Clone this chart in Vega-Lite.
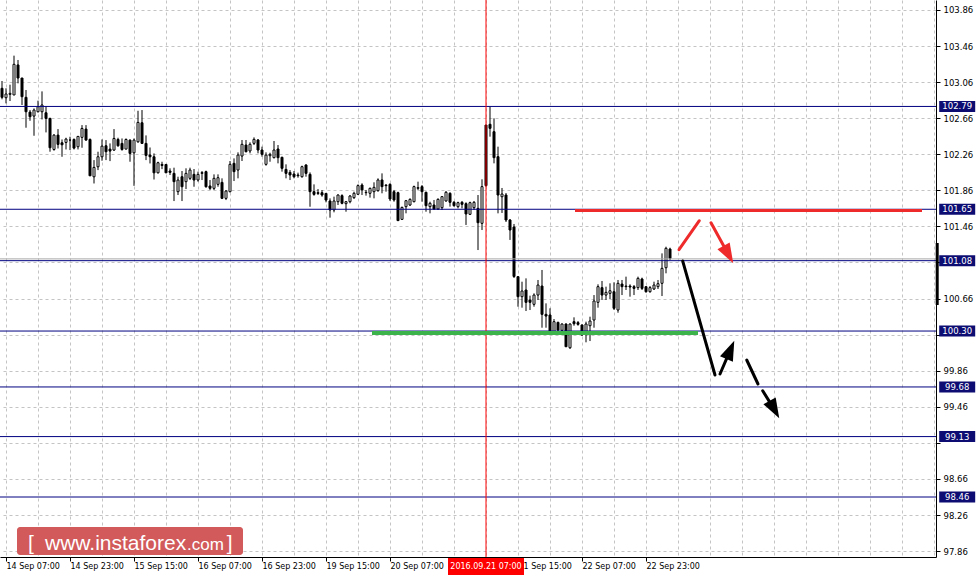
{
  "$schema": "https://vega.github.io/schema/vega-lite/v6.json",
  "width": 936,
  "height": 557,
  "autosize": {"type": "none"},
  "padding": {"left": 0, "top": 0, "right": 42, "bottom": 20},
  "background": "white",
  "config": {
    "view": {"stroke": null},
    "font": "DejaVu Sans",
    "scale": {"continuousPadding": 0},
    "axis": {"labelOverlap": false}
  },
  "datasets": {
    "candles": [
      {"i":-1,"o":102.991,"h":103.072,"l":102.869,"c":102.891},
      {"i":0,"o":102.887,"h":102.991,"l":102.824,"c":102.928},
      {"i":1,"o":102.924,"h":103.031,"l":102.850,"c":102.935},
      {"i":2,"o":102.917,"h":103.353,"l":102.917,"c":103.257},
      {"i":3,"o":103.250,"h":103.305,"l":103.046,"c":103.105},
      {"i":4,"o":103.105,"h":103.105,"l":102.806,"c":102.898},
      {"i":5,"o":102.891,"h":102.972,"l":102.554,"c":102.731},
      {"i":6,"o":102.727,"h":102.750,"l":102.631,"c":102.676},
      {"i":7,"o":102.683,"h":102.768,"l":102.465,"c":102.750},
      {"i":8,"o":102.731,"h":102.854,"l":102.724,"c":102.787},
      {"i":9,"o":102.731,"h":102.957,"l":102.646,"c":102.806},
      {"i":10,"o":102.720,"h":102.794,"l":102.502,"c":102.657},
      {"i":11,"o":102.657,"h":102.665,"l":102.288,"c":102.332},
      {"i":12,"o":102.313,"h":102.483,"l":102.299,"c":102.472},
      {"i":13,"o":102.472,"h":102.539,"l":102.324,"c":102.369},
      {"i":14,"o":102.387,"h":102.424,"l":102.232,"c":102.365},
      {"i":15,"o":102.391,"h":102.443,"l":102.313,"c":102.428},
      {"i":16,"o":102.417,"h":102.454,"l":102.306,"c":102.417},
      {"i":17,"o":102.424,"h":102.435,"l":102.313,"c":102.328},
      {"i":18,"o":102.343,"h":102.461,"l":102.313,"c":102.458},
      {"i":19,"o":102.447,"h":102.583,"l":102.332,"c":102.546},
      {"i":20,"o":102.539,"h":102.583,"l":102.410,"c":102.417},
      {"i":21,"o":102.424,"h":102.435,"l":102.021,"c":102.021},
      {"i":22,"o":102.010,"h":102.195,"l":101.936,"c":102.114},
      {"i":23,"o":102.121,"h":102.288,"l":102.084,"c":102.232},
      {"i":24,"o":102.232,"h":102.424,"l":102.188,"c":102.350},
      {"i":25,"o":102.354,"h":102.417,"l":102.195,"c":102.288},
      {"i":26,"o":102.317,"h":102.380,"l":102.184,"c":102.295},
      {"i":27,"o":102.306,"h":102.539,"l":102.299,"c":102.435},
      {"i":28,"o":102.424,"h":102.443,"l":102.343,"c":102.354},
      {"i":29,"o":102.380,"h":102.435,"l":102.299,"c":102.313},
      {"i":30,"o":102.317,"h":102.435,"l":102.317,"c":102.424},
      {"i":31,"o":102.417,"h":102.424,"l":102.177,"c":102.269},
      {"i":32,"o":102.276,"h":102.435,"l":101.910,"c":102.417},
      {"i":33,"o":102.398,"h":102.742,"l":102.387,"c":102.613},
      {"i":34,"o":102.609,"h":102.750,"l":102.380,"c":102.380},
      {"i":35,"o":102.380,"h":102.469,"l":102.195,"c":102.247},
      {"i":36,"o":102.251,"h":102.335,"l":102.158,"c":102.232},
      {"i":37,"o":102.232,"h":102.269,"l":101.980,"c":102.054},
      {"i":38,"o":102.054,"h":102.177,"l":102.047,"c":102.166},
      {"i":39,"o":102.147,"h":102.177,"l":102.095,"c":102.136},
      {"i":40,"o":102.147,"h":102.147,"l":102.054,"c":102.054},
      {"i":41,"o":102.074,"h":102.104,"l":102.030,"c":102.059},
      {"i":42,"o":102.048,"h":102.111,"l":101.741,"c":101.956},
      {"i":43,"o":101.845,"h":102.011,"l":101.808,"c":101.974},
      {"i":44,"o":102.011,"h":102.074,"l":101.741,"c":101.900},
      {"i":45,"o":101.956,"h":102.104,"l":101.874,"c":102.048},
      {"i":46,"o":101.993,"h":102.111,"l":101.974,"c":102.085},
      {"i":47,"o":102.037,"h":102.096,"l":101.900,"c":101.974},
      {"i":48,"o":101.974,"h":102.067,"l":101.956,"c":102.037},
      {"i":49,"o":102.048,"h":102.074,"l":101.974,"c":102.056},
      {"i":50,"o":102.067,"h":102.078,"l":101.889,"c":101.900},
      {"i":51,"o":101.908,"h":101.974,"l":101.863,"c":101.882},
      {"i":52,"o":101.882,"h":102.037,"l":101.863,"c":101.993},
      {"i":53,"o":101.926,"h":102.037,"l":101.900,"c":102.000},
      {"i":54,"o":101.948,"h":101.993,"l":101.763,"c":101.771},
      {"i":55,"o":101.771,"h":101.863,"l":101.752,"c":101.852},
      {"i":56,"o":101.845,"h":102.185,"l":101.837,"c":102.148},
      {"i":57,"o":102.159,"h":102.214,"l":101.963,"c":102.067},
      {"i":58,"o":102.085,"h":102.281,"l":101.993,"c":102.251},
      {"i":59,"o":102.240,"h":102.418,"l":102.185,"c":102.370},
      {"i":60,"o":102.362,"h":102.418,"l":102.281,"c":102.288},
      {"i":61,"o":102.296,"h":102.392,"l":102.270,"c":102.370},
      {"i":62,"o":102.381,"h":102.447,"l":102.362,"c":102.425},
      {"i":63,"o":102.418,"h":102.429,"l":102.270,"c":102.307},
      {"i":64,"o":102.307,"h":102.344,"l":102.233,"c":102.259},
      {"i":65,"o":102.148,"h":102.281,"l":102.133,"c":102.251},
      {"i":66,"o":102.244,"h":102.277,"l":102.177,"c":102.259},
      {"i":67,"o":102.222,"h":102.407,"l":102.214,"c":102.307},
      {"i":68,"o":102.318,"h":102.362,"l":102.159,"c":102.222},
      {"i":69,"o":102.226,"h":102.233,"l":102.067,"c":102.104},
      {"i":70,"o":102.092,"h":102.148,"l":101.993,"c":102.048},
      {"i":71,"o":102.059,"h":102.085,"l":101.974,"c":102.030},
      {"i":72,"o":102.041,"h":102.074,"l":101.993,"c":102.011},
      {"i":73,"o":102.030,"h":102.056,"l":102.000,"c":102.022},
      {"i":74,"o":102.011,"h":102.133,"l":102.000,"c":102.122},
      {"i":75,"o":102.141,"h":102.148,"l":102.011,"c":102.048},
      {"i":76,"o":102.037,"h":102.059,"l":101.678,"c":101.845},
      {"i":77,"o":101.845,"h":101.926,"l":101.800,"c":101.815},
      {"i":78,"o":101.834,"h":101.874,"l":101.808,"c":101.826},
      {"i":79,"o":101.834,"h":101.863,"l":101.789,"c":101.808},
      {"i":80,"o":101.826,"h":101.826,"l":101.727,"c":101.752},
      {"i":81,"o":101.742,"h":101.771,"l":101.557,"c":101.642},
      {"i":82,"o":101.642,"h":101.790,"l":101.616,"c":101.742},
      {"i":83,"o":101.734,"h":101.816,"l":101.697,"c":101.808},
      {"i":84,"o":101.801,"h":101.816,"l":101.705,"c":101.716},
      {"i":85,"o":101.712,"h":101.742,"l":101.623,"c":101.734},
      {"i":86,"o":101.734,"h":101.808,"l":101.716,"c":101.797},
      {"i":87,"o":101.779,"h":101.845,"l":101.764,"c":101.827},
      {"i":88,"o":101.816,"h":101.926,"l":101.808,"c":101.912},
      {"i":89,"o":101.919,"h":101.938,"l":101.808,"c":101.864},
      {"i":90,"o":101.834,"h":101.864,"l":101.801,"c":101.838},
      {"i":91,"o":101.827,"h":101.890,"l":101.779,"c":101.882},
      {"i":92,"o":101.845,"h":101.949,"l":101.771,"c":101.893},
      {"i":93,"o":101.856,"h":101.993,"l":101.845,"c":101.975},
      {"i":94,"o":101.975,"h":102.048,"l":101.827,"c":101.901},
      {"i":95,"o":101.919,"h":101.926,"l":101.845,"c":101.912},
      {"i":96,"o":101.926,"h":101.938,"l":101.742,"c":101.764},
      {"i":97,"o":101.845,"h":101.864,"l":101.734,"c":101.753},
      {"i":98,"o":101.834,"h":101.845,"l":101.524,"c":101.524},
      {"i":99,"o":101.538,"h":101.679,"l":101.531,"c":101.671},
      {"i":100,"o":101.679,"h":101.753,"l":101.605,"c":101.745},
      {"i":101,"o":101.697,"h":101.771,"l":101.686,"c":101.760},
      {"i":102,"o":101.734,"h":101.912,"l":101.727,"c":101.901},
      {"i":103,"o":101.882,"h":101.956,"l":101.864,"c":101.890},
      {"i":104,"o":101.901,"h":101.919,"l":101.734,"c":101.845},
      {"i":105,"o":101.838,"h":101.845,"l":101.623,"c":101.690},
      {"i":106,"o":101.679,"h":101.734,"l":101.605,"c":101.716},
      {"i":107,"o":101.697,"h":101.753,"l":101.642,"c":101.653},
      {"i":108,"o":101.653,"h":101.771,"l":101.642,"c":101.760},
      {"i":109,"o":101.668,"h":101.797,"l":101.642,"c":101.790},
      {"i":110,"o":101.742,"h":101.853,"l":101.734,"c":101.838},
      {"i":111,"o":101.827,"h":101.838,"l":101.679,"c":101.727},
      {"i":112,"o":101.727,"h":101.742,"l":101.679,"c":101.690},
      {"i":113,"o":101.679,"h":101.734,"l":101.660,"c":101.723},
      {"i":114,"o":101.727,"h":101.742,"l":101.660,"c":101.705},
      {"i":115,"o":101.712,"h":101.727,"l":101.476,"c":101.598},
      {"i":116,"o":101.594,"h":101.734,"l":101.586,"c":101.723},
      {"i":117,"o":101.668,"h":101.742,"l":101.642,"c":101.727},
      {"i":118,"o":101.660,"h":101.808,"l":101.198,"c":101.501},
      {"i":119,"o":101.494,"h":101.982,"l":101.420,"c":101.901},
      {"i":120,"o":102.584,"h":102.584,"l":101.901,"c":101.912},
      {"i":121,"o":102.592,"h":102.788,"l":102.455,"c":102.547},
      {"i":122,"o":102.510,"h":102.658,"l":102.159,"c":102.222},
      {"i":123,"o":102.233,"h":102.344,"l":101.605,"c":101.808},
      {"i":124,"o":101.789,"h":101.886,"l":101.609,"c":101.819},
      {"i":125,"o":101.808,"h":101.830,"l":101.509,"c":101.531},
      {"i":126,"o":101.531,"h":101.542,"l":101.310,"c":101.420},
      {"i":127,"o":101.453,"h":101.487,"l":100.888,"c":100.905},
      {"i":128,"o":100.903,"h":100.903,"l":100.570,"c":100.681},
      {"i":129,"o":100.681,"h":100.847,"l":100.559,"c":100.744},
      {"i":130,"o":100.755,"h":100.884,"l":100.522,"c":100.618},
      {"i":131,"o":100.644,"h":100.692,"l":100.533,"c":100.618},
      {"i":132,"o":100.596,"h":100.718,"l":100.570,"c":100.699},
      {"i":133,"o":100.699,"h":100.866,"l":100.644,"c":100.810},
      {"i":134,"o":100.799,"h":100.977,"l":100.337,"c":100.485},
      {"i":135,"o":100.485,"h":100.607,"l":100.337,"c":100.466},
      {"i":136,"o":100.478,"h":100.552,"l":100.293,"c":100.293},
      {"i":137,"o":100.293,"h":100.433,"l":100.293,"c":100.404},
      {"i":138,"o":100.396,"h":100.404,"l":100.300,"c":100.311},
      {"i":139,"o":100.308,"h":100.385,"l":100.293,"c":100.378},
      {"i":140,"o":100.378,"h":100.385,"l":100.126,"c":100.126},
      {"i":141,"o":100.115,"h":100.385,"l":100.101,"c":100.378},
      {"i":142,"o":100.404,"h":100.452,"l":100.359,"c":100.381},
      {"i":143,"o":100.393,"h":100.411,"l":100.359,"c":100.374},
      {"i":144,"o":100.367,"h":100.374,"l":100.248,"c":100.256},
      {"i":145,"o":100.274,"h":100.404,"l":100.175,"c":100.378},
      {"i":146,"o":100.359,"h":100.459,"l":100.189,"c":100.411},
      {"i":147,"o":100.422,"h":100.699,"l":100.337,"c":100.633},
      {"i":148,"o":100.618,"h":100.818,"l":100.559,"c":100.792},
      {"i":149,"o":100.781,"h":100.855,"l":100.644,"c":100.699},
      {"i":150,"o":100.699,"h":100.792,"l":100.644,"c":100.729},
      {"i":151,"o":100.718,"h":100.829,"l":100.655,"c":100.747},
      {"i":152,"o":100.736,"h":100.840,"l":100.533,"c":100.552},
      {"i":153,"o":100.533,"h":100.866,"l":100.503,"c":100.829},
      {"i":154,"o":100.821,"h":100.866,"l":100.699,"c":100.792},
      {"i":155,"o":100.799,"h":100.903,"l":100.755,"c":100.792},
      {"i":156,"o":100.799,"h":100.818,"l":100.681,"c":100.788},
      {"i":157,"o":100.792,"h":100.810,"l":100.699,"c":100.773},
      {"i":158,"o":100.781,"h":100.903,"l":100.755,"c":100.884},
      {"i":159,"o":100.877,"h":100.892,"l":100.755,"c":100.773},
      {"i":160,"o":100.792,"h":100.792,"l":100.725,"c":100.736},
      {"i":161,"o":100.736,"h":100.799,"l":100.725,"c":100.781},
      {"i":162,"o":100.766,"h":100.847,"l":100.755,"c":100.810},
      {"i":163,"o":100.792,"h":100.866,"l":100.766,"c":100.825},
      {"i":164,"o":100.829,"h":101.161,"l":100.688,"c":100.995},
      {"i":165,"o":101.002,"h":101.235,"l":100.940,"c":101.217},
      {"i":166,"o":101.209,"h":101.224,"l":101.087,"c":101.106}
    ],
    "levels": [
      {"v": 102.79}, {"v": 101.65}, {"v": 101.08}, {"v": 100.30},
      {"v": 99.68}, {"v": 99.13}, {"v": 98.46}
    ],
    "redSegs": [
      {"x": 168.25, "y": 101.202, "x2": 173.33, "y2": 101.523},
      {"x": 176.25, "y": 101.501, "x2": 180.6, "y2": 101.148}
    ],
    "blackSegs": [
      {"x": 169.18, "y": 101.076, "x2": 177.25, "y2": 99.813},
      {"x": 178.5, "y": 99.824, "x2": 181.09, "y2": 100.091},
      {"x": 185.18, "y": 99.979, "x2": 188.0, "y2": 99.713},
      {"x": 189.18, "y": 99.638, "x2": 192.1, "y2": 99.429}
    ]
  },
  "layer": [
    {
      "data": {"name": "candles"},
      "mark": {"type": "rule", "color": "black", "strokeWidth": 1},
      "encoding": {
        "x": {
          "field": "i", "type": "quantitative",
          "scale": {"domain": [-1.5, 232.5], "nice": false, "zero": false, "padding": 0},
          "axis": {
            "orient": "bottom", "title": null, "tickCount": 200,
            "values": [0,8,16,24,32,40,48,56,64,72,80,88,96,104,112,120,128,136,144,152,160,168,176,184,192,200,208,216,224,232],
            "grid": true, "gridColor": "#c4c4c4", "gridDash": [3, 3], "gridWidth": 1,
            "domain": true, "domainColor": "black", "domainWidth": 1,
            "ticks": true, "tickSize": 4, "tickWidth": 1,
            "tickColor": {"condition": {"test": "datum.value % 16 == 0 && datum.value <= 160", "value": "black"}, "value": "transparent"},
            "labelExpr": "datum.value % 16 == 0 && datum.value <= 160 && datum.value != 112 ? ['14 Sep 07:00','14 Sep 23:00','15 Sep 15:00','16 Sep 07:00','16 Sep 23:00','19 Sep 15:00','20 Sep 07:00','20 Sep 23:00','21 Sep 15:00','22 Sep 07:00','22 Sep 23:00'][datum.value / 16] : ''",
            "labelAlign": "left", "labelBaseline": "top", "labelPadding": 1,
            "labelFont": "DejaVu Sans", "labelFontSize": 8, "labelColor": "black",
            "labelOverlap": false, "labelBound": false, "labelFlush": false
          }
        },
        "y": {
          "field": "l", "type": "quantitative",
          "scale": {"domain": [97.795, 103.97], "nice": false, "zero": false, "padding": 0},
          "axis": {
            "orient": "right", "title": null, "tickCount": 200,
            "values": [103.86,103.46,103.06,102.66,102.26,101.86,101.46,101.06,100.66,100.26,99.86,99.46,99.06,98.66,98.26,97.86],
            "grid": true, "gridColor": "#c4c4c4", "gridDash": [3, 3], "gridWidth": 1,
            "domain": true, "domainColor": "black", "domainWidth": 1,
            "ticks": true, "tickSize": 4, "tickColor": "black",
            "labelExpr": "abs(datum.value - 101.06) < 0.01 || abs(datum.value - 100.26) < 0.01 || abs(datum.value - 99.06) < 0.01 ? '' : format(datum.value, '.2f')",
            "labelAlign": "left", "labelBaseline": "middle", "labelPadding": 3,
            "labelFont": "DejaVu Sans", "labelFontSize": 8.5, "labelColor": "black",
            "labelOverlap": false, "labelBound": false, "labelFlush": false
          }
        },
        "y2": {"field": "h"}
      }
    },
    {
      "data": {"name": "candles"},
      "mark": {"type": "bar", "size": 2, "stroke": "black", "strokeWidth": 1},
      "encoding": {
        "x": {"field": "i", "type": "quantitative"},
        "y": {"field": "o", "type": "quantitative"},
        "y2": {"field": "c"},
        "fill": {"condition": {"test": "datum.c < datum.o", "value": "black"}, "value": "white"}
      }
    },
    {
      "data": {"values": [{"v": 101.10}]},
      "mark": {"type": "rule", "color": "#a8a8a8", "strokeWidth": 1},
      "encoding": {
        "y": {"field": "v", "type": "quantitative"}
      }
    },
    {
      "data": {"name": "levels"},
      "mark": {"type": "rule", "color": "#000080", "strokeWidth": 1},
      "encoding": {
        "y": {"field": "v", "type": "quantitative"}
      }
    },
    {
      "data": {"values": [{"t": 120}]},
      "mark": {"type": "rule", "color": "#ff0000", "strokeWidth": 1},
      "encoding": {
        "x": {"field": "t", "type": "quantitative"}
      }
    },
    {
      "data": {"values": [{"x": 142.25, "x2": 229, "y": 101.635}]},
      "mark": {"type": "rule", "color": "#ee2a2a", "strokeWidth": 3},
      "encoding": {
        "x": {"field": "x", "type": "quantitative"},
        "x2": {"field": "x2"},
        "y": {"field": "y", "type": "quantitative"}
      }
    },
    {
      "data": {"values": [{"x": 91.5, "x2": 173, "y": 100.278}]},
      "mark": {"type": "rule", "color": "#3cb44b", "strokeWidth": 4},
      "encoding": {
        "x": {"field": "x", "type": "quantitative"},
        "x2": {"field": "x2"},
        "y": {"field": "y", "type": "quantitative"}
      }
    },
    {
      "data": {"name": "redSegs"},
      "mark": {"type": "rule", "color": "#ee2a2a", "strokeWidth": 3, "strokeCap": "round"},
      "encoding": {
        "x": {"field": "x", "type": "quantitative"},
        "x2": {"field": "x2"},
        "y": {"field": "y", "type": "quantitative"},
        "y2": {"field": "y2"}
      }
    },
    {
      "data": {"name": "blackSegs"},
      "mark": {"type": "rule", "color": "black", "strokeWidth": 3, "strokeCap": "round"},
      "encoding": {
        "x": {"field": "x", "type": "quantitative"},
        "x2": {"field": "x2"},
        "y": {"field": "y", "type": "quantitative"},
        "y2": {"field": "y2"}
      }
    },
    {
      "data": {"values": [{"x": 180.6, "y": 101.148}]},
      "mark": {"type": "point", "shape": "M0,-1L0.7,1L-0.7,1Z", "size": 400, "angle": 151, "filled": true, "color": "#ee2a2a", "opacity": 1},
      "encoding": {
        "x": {"field": "x", "type": "quantitative"},
        "y": {"field": "y", "type": "quantitative"}
      }
    },
    {
      "data": {"values": [{"x": 181.09, "y": 100.091}]},
      "mark": {"type": "point", "shape": "M0,-1L0.7,1L-0.7,1Z", "size": 400, "angle": 23, "filled": true, "color": "black", "opacity": 1},
      "encoding": {
        "x": {"field": "x", "type": "quantitative"},
        "y": {"field": "y", "type": "quantitative"}
      }
    },
    {
      "data": {"values": [{"x": 192.1, "y": 99.429}]},
      "mark": {"type": "point", "shape": "M0,-1L0.7,1L-0.7,1Z", "size": 400, "angle": 151, "filled": true, "color": "black", "opacity": 1},
      "encoding": {
        "x": {"field": "x", "type": "quantitative"},
        "y": {"field": "y", "type": "quantitative"}
      }
    },
    {
      "data": {"values": [{"x": 232.8, "y": 101.276, "y2": 100.589}]},
      "mark": {"type": "rule", "color": "black", "strokeWidth": 3},
      "encoding": {
        "x": {"field": "x", "type": "quantitative"},
        "y": {"field": "y", "type": "quantitative"},
        "y2": {"field": "y2"}
      }
    },
    {
      "data": {"name": "levels"},
      "mark": {"type": "bar", "size": 11, "color": "#0c0c72", "orient": "horizontal"},
      "encoding": {
        "x": {"datum": 233.3, "type": "quantitative"},
        "x2": {"datum": 242.3},
        "y": {"field": "v", "type": "quantitative"}
      }
    },
    {
      "data": {"name": "levels"},
      "mark": {"type": "text", "color": "white", "font": "DejaVu Sans", "fontSize": 8.5, "align": "center", "baseline": "middle"},
      "encoding": {
        "x": {"datum": 237.8, "type": "quantitative"},
        "y": {"field": "v", "type": "quantitative"},
        "text": {"field": "v", "format": ".2f"}
      }
    },
    {
      "data": {"values": [{"a": 110.5, "b": 129.5, "y": 97.784, "y2": 97.595}]},
      "mark": {"type": "rect", "color": "#ff0000"},
      "encoding": {
        "x": {"field": "a", "type": "quantitative"},
        "x2": {"field": "b"},
        "y": {"field": "y", "type": "quantitative"},
        "y2": {"field": "y2"}
      }
    },
    {
      "data": {"values": [{"x": 120, "y": 97.684, "t": "2016.09.21 07:00"}]},
      "mark": {"type": "text", "color": "white", "font": "DejaVu Sans", "fontSize": 8, "align": "center", "baseline": "middle"},
      "encoding": {
        "x": {"field": "x", "type": "quantitative"},
        "y": {"field": "y", "type": "quantitative"},
        "text": {"field": "t"}
      }
    },
    {
      "data": {"values": [{"a": 2.75, "b": 59.25, "y": 98.127, "y2": 97.817}]},
      "mark": {"type": "rect", "color": "#d25a5a", "cornerRadius": 3},
      "encoding": {
        "x": {"field": "a", "type": "quantitative"},
        "x2": {"field": "b"},
        "y": {"field": "y", "type": "quantitative"},
        "y2": {"field": "y2"}
      }
    },
    {
      "data": {"values": [
        {"x": 5.5, "y": 97.872, "t": "[", "s": "big"},
        {"x": 9.75, "y": 97.872, "t": "www.instaforex", "s": "big"},
        {"x": 45.25, "y": 97.872, "t": ".com", "s": "small"},
        {"x": 55.2, "y": 97.872, "t": "]", "s": "big"}
      ]},
      "mark": {"type": "text", "color": "white", "font": "Liberation Sans", "align": "left", "baseline": "alphabetic"},
      "encoding": {
        "x": {"field": "x", "type": "quantitative"},
        "y": {"field": "y", "type": "quantitative"},
        "text": {"field": "t"},
        "size": {"field": "s", "type": "nominal", "scale": {"domain": ["big", "small"], "range": [21, 17]}, "legend": null}
      }
    }
  ]
}
